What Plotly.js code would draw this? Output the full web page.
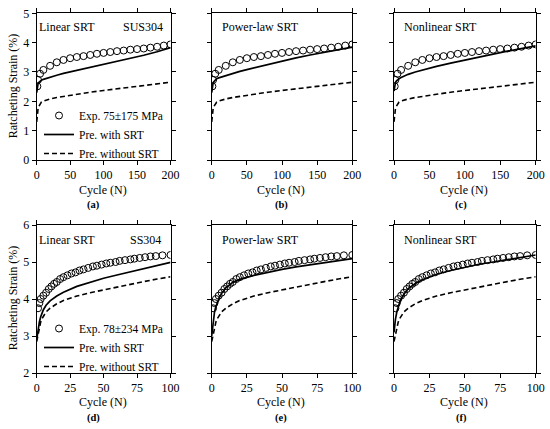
<!DOCTYPE html>
<html>
<head>
<meta charset="utf-8">
<script src="https://cdn.plot.ly/plotly-3.0.1.min.js"></script>
<style>html,body{margin:0;padding:0;background:#fff;}#chart{width:550px;height:429px;}</style>
</head>
<body>
<div id="chart"></div>
<script>
// ---------- DATA ----------
// Row 1: SUS304, 75±175 MPa, cycles 0-200
var expN1 = [1, 2, 5, 10, 20, 30, 40, 50, 60, 70, 80, 90, 100, 110, 120, 130, 140, 150, 160, 170, 180, 190, 200];
var expStrain1 = [2.51, 2.73, 2.94, 3.07, 3.21, 3.33, 3.41, 3.47, 3.51, 3.54, 3.58, 3.62, 3.65, 3.68, 3.71, 3.73, 3.76, 3.78, 3.80, 3.83, 3.86, 3.90, 3.94];
var modelN1 = [0, 1, 2, 3, 5, 7, 10, 15, 20, 30, 40, 50, 60, 80, 100, 120, 140, 160, 180, 200];
var linearSRT1 = [2.30, 2.52, 2.60, 2.64, 2.69, 2.72, 2.75, 2.79, 2.83, 2.89, 2.95, 3.00, 3.05, 3.15, 3.25, 3.35, 3.46, 3.57, 3.69, 3.83];
var powerSRT1 = [2.30, 2.55, 2.63, 2.67, 2.73, 2.77, 2.80, 2.84, 2.88, 2.95, 3.02, 3.08, 3.14, 3.26, 3.37, 3.48, 3.58, 3.67, 3.76, 3.85];
var nonlinSRT1 = [2.35, 2.58, 2.64, 2.68, 2.73, 2.77, 2.81, 2.87, 2.92, 3.00, 3.07, 3.13, 3.19, 3.30, 3.41, 3.51, 3.61, 3.71, 3.80, 3.89];
var noSRT1 = [1.30, 1.60, 1.74, 1.82, 1.92, 1.97, 2.01, 2.05, 2.08, 2.13, 2.17, 2.21, 2.24, 2.31, 2.37, 2.43, 2.49, 2.54, 2.60, 2.65];

// Row 2: SS304, 78±234 MPa, cycles 0-100
var expN2 = [1, 2, 3, 5, 7, 9, 11, 13, 15, 17.5, 20, 23, 26, 29, 32, 35, 38.5, 42, 45, 48.5, 52, 55, 59, 62, 66, 70, 73, 77, 81, 85, 89, 94, 100];
var expStrain2 = [3.75, 3.89, 4.00, 4.09, 4.17, 4.27, 4.34, 4.41, 4.46, 4.54, 4.59, 4.64, 4.69, 4.72, 4.77, 4.80, 4.84, 4.88, 4.90, 4.93, 4.96, 4.98, 5.00, 5.03, 5.05, 5.07, 5.09, 5.11, 5.13, 5.15, 5.16, 5.18, 5.19];
var modelN2 = [0, 0.5, 1, 2, 3, 4, 5, 7, 10, 15, 20, 30, 40, 50, 60, 70, 80, 90, 100];
var linearSRT2 = [2.90, 3.05, 3.18, 3.38, 3.52, 3.63, 3.71, 3.83, 3.95, 4.08, 4.18, 4.34, 4.46, 4.56, 4.65, 4.74, 4.83, 4.91, 4.99];
var powerSRT2 = [3.00, 3.22, 3.40, 3.65, 3.80, 3.91, 4.00, 4.15, 4.30, 4.45, 4.53, 4.64, 4.73, 4.80, 4.87, 4.93, 4.98, 5.04, 5.09];
var nonlinSRT2 = [3.10, 3.30, 3.45, 3.65, 3.80, 3.91, 4.00, 4.13, 4.28, 4.42, 4.52, 4.67, 4.77, 4.86, 4.94, 5.00, 5.07, 5.13, 5.19];
var noSRT2 = [2.85, 2.95, 3.05, 3.25, 3.38, 3.47, 3.54, 3.65, 3.75, 3.87, 3.96, 4.08, 4.17, 4.25, 4.33, 4.40, 4.47, 4.54, 4.60];

var expNames = ["Exp. 75±175 MPa", "Exp. 78±234 MPa"];
var seriesNames = ["Pre. with SRT", "Pre. without SRT"];
var modelLabels = ["Linear SRT", "Power-law SRT", "Nonlinear SRT"];
var materialLabels = ["SUS304", "SS304"];
var panelLabels = ["(a)", "(b)", "(c)", "(d)", "(e)", "(f)"];
var xTitle = "Cycle (N)";
var yTitle = "Ratcheting Strain (%)";

// ---------- BUILD ----------
var FONT = "'Liberation Serif', 'Times New Roman', serif";
var rows = [
  {expN: expN1, exp: expStrain1, mN: modelN1, srt: [linearSRT1, powerSRT1, nonlinSRT1], no: noSRT1},
  {expN: expN2, exp: expStrain2, mN: modelN2, srt: [linearSRT2, powerSRT2, nonlinSRT2], no: noSRT2}
];
var traces = [];
for (var r = 0; r < 2; r++) {
  for (var c = 0; c < 3; c++) {
    var k = r * 3 + c + 1;
    var xa = k === 1 ? 'x' : 'x' + k, ya = k === 1 ? 'y' : 'y' + k;
    var inLeg = (c === 0);
    var legId = r === 0 ? 'legend' : 'legend2';
    var R = rows[r];
    traces.push({x: R.expN, y: R.exp, xaxis: xa, yaxis: ya, type: 'scatter', mode: 'markers',
      name: expNames[r], showlegend: inLeg, legend: legId,
      marker: {symbol: 'circle-open', size: 7, color: '#000', line: {width: 1, color: '#000'}}});
    traces.push({x: R.mN, y: R.srt[c], xaxis: xa, yaxis: ya, type: 'scatter', mode: 'lines',
      name: seriesNames[0], showlegend: inLeg, legend: legId,
      line: {color: '#000', width: 1.7}});
    traces.push({x: R.mN, y: R.no, xaxis: xa, yaxis: ya, type: 'scatter', mode: 'lines',
      name: seriesNames[1], showlegend: inLeg, legend: legId,
      line: {color: '#000', width: 1.6, dash: '5px,3px'}});
  }
}

var W = 550, H = 429;
var colPx = [[36.7, 170.5], [211.7, 352.3], [394, 535.7]];
var rowPx = [[13.3, 160], [225, 373]];
var layout = {
  width: W, height: H, margin: {l: 0, r: 0, t: 0, b: 0},
  paper_bgcolor: '#fff', plot_bgcolor: '#fff',
  font: {family: FONT, size: 12, color: '#000'},
  annotations: [],
  legend: {x: 39 / W, xanchor: 'left', y: 1 - 168 / H, yanchor: 'bottom', bgcolor: 'rgba(0,0,0,0)',
    font: {family: FONT, size: 11.5, color: '#000'}, itemwidth: 30, tracegroupgap: 0},
  legend2: {x: 39 / W, xanchor: 'left', y: 1 - 381 / H, yanchor: 'bottom', bgcolor: 'rgba(0,0,0,0)',
    font: {family: FONT, size: 11.5, color: '#000'}, itemwidth: 30, tracegroupgap: 0}
};
var xRanges = [[0, 200], [0, 100]], xDt = [50, 25];
var yRanges = [[0, 5], [2, 6]];
for (var r = 0; r < 2; r++) {
  for (var c = 0; c < 3; c++) {
    var k = r * 3 + c + 1;
    var xk = k === 1 ? 'xaxis' : 'xaxis' + k, yk = k === 1 ? 'yaxis' : 'yaxis' + k;
    var common = {showline: true, linecolor: '#000', linewidth: 1, mirror: 'ticks', ticks: 'outside',
      ticklen: 4, tickwidth: 1, tickcolor: '#000', showgrid: false, zeroline: false, fixedrange: true,
      tickfont: {family: FONT, size: 12, color: '#000'}};
    layout[xk] = Object.assign({}, common, {domain: [colPx[c][0] / W, colPx[c][1] / W], range: xRanges[r],
      dtick: xDt[r], tick0: 0, anchor: k === 1 ? 'y' : 'y' + k});
    layout[yk] = Object.assign({}, common, {domain: [1 - rowPx[r][1] / H, 1 - rowPx[r][0] / H], range: yRanges[r],
      dtick: 1, tick0: 0, anchor: k === 1 ? 'x' : 'x' + k, showticklabels: c === 0});
    var cx = (colPx[c][0] + colPx[c][1]) / 2;
    // x-axis title
    layout.annotations.push({text: xTitle, xref: 'paper', yref: 'paper', x: (cx - 1) / W,
      y: 1 - (r === 0 ? 189.5 : 401.5) / H, xanchor: 'center', yanchor: 'middle', showarrow: false, borderpad: 0,
      font: {family: FONT, size: 12, color: '#000'}});
    // panel label
    var lx = [93, 281, 461][c];
    layout.annotations.push({text: '<b>' + panelLabels[k - 1] + '</b>', xref: 'paper', yref: 'paper', x: lx / W,
      y: 1 - (r === 0 ? 204.5 : 417.5) / H, xanchor: 'center', yanchor: 'middle', showarrow: false, borderpad: 0,
      font: {family: FONT, size: 10.5, color: '#000'}});
    // model label
    var mx = [37, 220, 402][c];
    layout.annotations.push({text: modelLabels[c], xref: 'paper', yref: 'paper', x: mx / W,
      y: 1 - (r === 0 ? 26.7 : 240) / H, xanchor: 'left', yanchor: 'middle', showarrow: false,
      font: {family: FONT, size: 12, color: '#000'}});
  }
  // material
  layout.annotations.push({text: materialLabels[r], xref: 'paper', yref: 'paper', x: (r === 0 ? 165 : 163) / W,
    y: 1 - (r === 0 ? 26.7 : 240) / H, xanchor: 'right', yanchor: 'middle', showarrow: false,
    font: {family: FONT, size: 12, color: '#000'}});
  // y title
  layout.annotations.push({text: yTitle, xref: 'paper', yref: 'paper', x: 13.3 / W,
    y: 1 - (r === 0 ? 86 : 298) / H, xanchor: 'center', yanchor: 'middle', showarrow: false, textangle: -90,
    font: {family: FONT, size: 12, color: '#000'}});
}

Plotly.newPlot('chart', traces, layout, {staticPlot: true, displayModeBar: false});
</script>
</body>
</html>
